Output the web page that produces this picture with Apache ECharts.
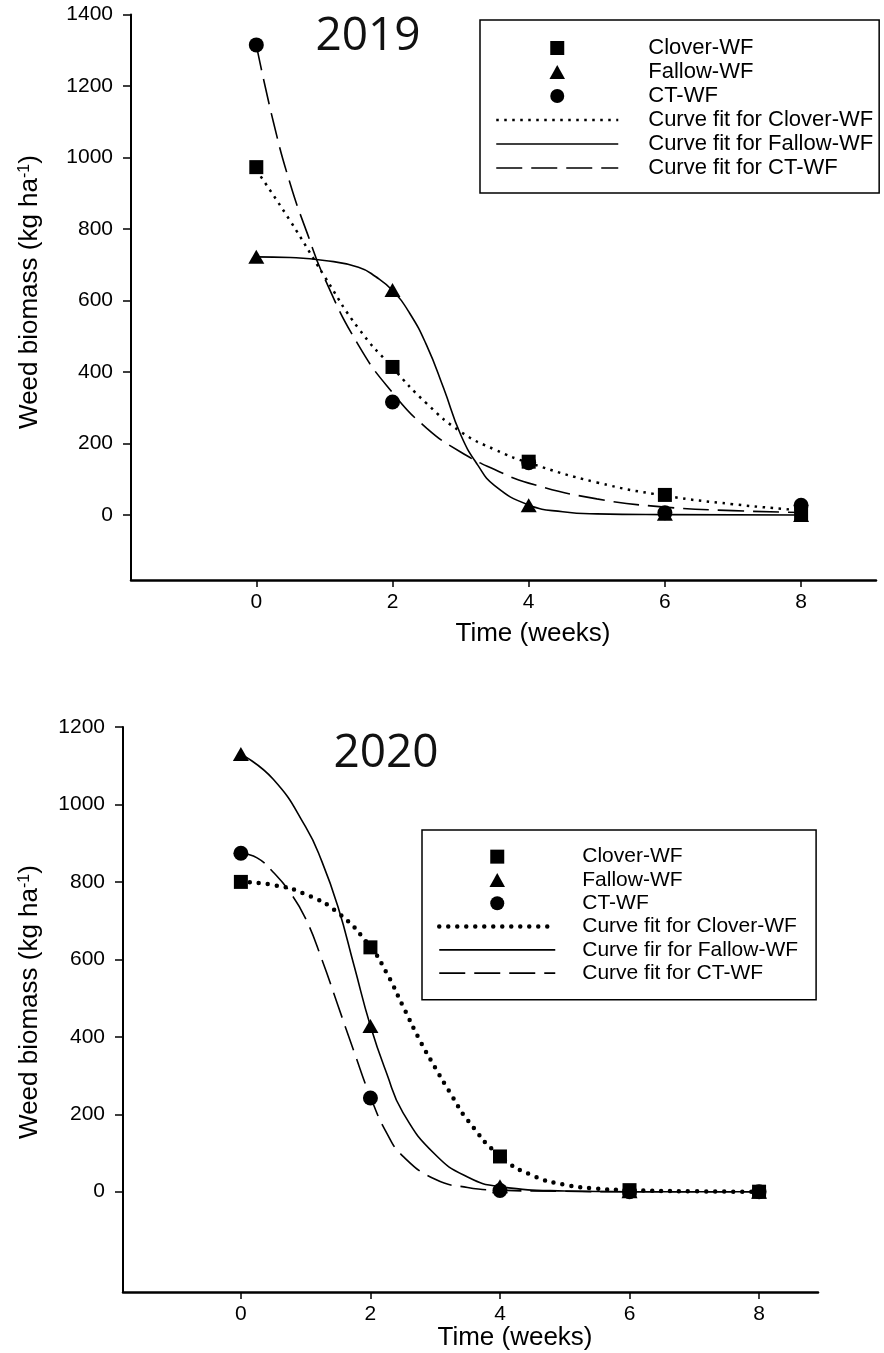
<!DOCTYPE html>
<html>
<head>
<meta charset="utf-8">
<script src="https://cdn.jsdelivr.net/npm/echarts@6/dist/echarts.min.js"></script>
<style>
html,body{margin:0;padding:0;background:#fff;}
#chart{width:884px;height:1353px;}
</style>
</head>
<body>
<div id="chart"></div>
<script>
// ---------- data ----------
const weeks = [0, 2, 4, 6, 8];
const xTickLabels = [0, 2, 4, 6, 8];
const yTicks2019 = [0, 200, 400, 600, 800, 1000, 1200, 1400];
const yTicks2020 = [0, 200, 400, 600, 800, 1000, 1200];

// 2019 observed
const clover2019 = [973, 414, 149, 56, 2];
const fallow2019 = [722, 629, 27, 3, 0];
const ct2019 = [1315, 316, 146, 6, 27];
// 2019 fitted curves
const cloverFitT2019 = [0, 0.5, 1, 1.5, 2, 2.5, 3, 3.5, 4, 5, 6, 7, 8];
const cloverFit2019 = [965, 822, 668, 522, 412, 312, 233, 183, 146, 91, 54, 30, 13];
const fallowFitT2019 = [0, 0.5, 1, 1.5, 1.75, 2, 2.25, 2.5, 2.75, 3, 3.25, 3.5, 4, 4.5, 5, 6, 8];
const fallowFit2019 = [722, 720, 712, 693, 667, 628, 565, 475, 355, 225, 140, 82, 28, 9, 3, 1, 0];
const ctFitT2019 = [0, 0.25, 0.5, 0.75, 1, 1.5, 2, 2.5, 3, 3.5, 4, 5, 6, 7, 8];
const ctFit2019 = [1315, 1100, 925, 787, 663, 475, 342, 243, 176, 127, 89, 45, 22, 12, 7];

// 2020 observed
const clover2020 = [800, 631, 91, 4, 0];
const fallow2020 = [1130, 428, 14, 1, 0];
const ct2020 = [874, 242, 3, 0, 0];
// 2020 fitted curves
const cloverFitT2020 = [0, 0.5, 1, 1.5, 2, 2.25, 2.5, 2.75, 3, 3.25, 3.5, 4, 4.5, 5, 5.5, 6, 7, 8];
const cloverFit2020 = [800, 792, 768, 720, 632, 565, 480, 395, 320, 250, 185, 92, 42, 18, 8, 4, 1, 0];
const fallowFitT2020 = [0, 0.5, 1, 1.25, 1.5, 1.75, 2, 2.25, 2.5, 3, 3.5, 4, 5, 6, 8];
const fallowFit2020 = [1130, 1065, 942, 853, 735, 582, 428, 306, 205, 96, 38, 13, 2, 0, 0];
const ctFitT2020 = [0, 0.25, 0.5, 0.75, 1, 1.25, 1.5, 1.75, 2, 2.25, 2.5, 3, 3.5, 4, 5, 6, 8];
const ctFit2020 = [874, 862, 825, 775, 705, 600, 480, 360, 245, 152, 92, 32, 11, 4, 1, 0, 0];

const legendNames2019 = ['Clover-WF', 'Fallow-WF', 'CT-WF', 'Curve fit for Clover-WF', 'Curve fit for Fallow-WF', 'Curve fit for CT-WF'];
const legendNames2020 = ['Clover-WF', 'Fallow-WF', 'CT-WF', 'Curve fit for Clover-WF', 'Curve fir for Fallow-WF', 'Curve fit for CT-WF'];

// ---------- helpers ----------
const zip = (xs, ys) => xs.map((x, i) => [x, ys[i]]);
const FONT = 'Liberation Sans';
const SQ = 'path://M0,0L10,0L10,10L0,10Z';
const TRI = 'path://M5,0L10,9L0,9Z';
const CIRC = 'path://M10,5A5,5,0,1,1,0,5A5,5,0,1,1,10,5Z';
const markerIcons = [SQ, TRI, CIRC];
const markerSymbols = ['rect', 'triangle', 'circle'];
const markerSizes = [[14, 14], [16, 14], 15];

function axesFor(idx, yMin, yMax, yTicks, xMin, xMax) {
  const x = {
    type: 'value', gridIndex: idx, min: xMin, max: xMax,
    axisLine: {show: true, onZero: false, lineStyle: {color: '#000', width: 2.5}},
    axisTick: {show: true, customValues: xTickLabels, length: 7, lineStyle: {color: '#000', width: 1.5}},
    axisLabel: {customValues: xTickLabels, formatter: v => String(v), color: '#000', fontSize: 21, fontFamily: FONT, margin: 12},
    splitLine: {show: false}
  };
  const y = {
    type: 'value', gridIndex: idx, min: yMin, max: yMax,
    axisLine: {show: true, onZero: false, lineStyle: {color: '#000', width: 2}},
    axisTick: {show: true, customValues: yTicks, length: 8, lineStyle: {color: '#000', width: 1.5}},
    axisLabel: {customValues: yTicks, formatter: v => String(v), color: '#000', fontSize: 21, fontFamily: FONT, margin: 18},
    splitLine: {show: false}
  };
  return [x, y];
}

function seriesFor(idx, prefix, names, obs, fits, fitTs, dotted) {
  const out = [];
  obs.forEach((vals, i) => {
    out.push({
      type: 'scatter', name: prefix + names[i], xAxisIndex: idx, yAxisIndex: idx,
      data: zip(weeks, vals), symbol: markerSymbols[i], symbolSize: markerSizes[i],
      itemStyle: {color: '#000', opacity: 1}, z: 5
    });
  });
  const styles = [
    dotted,
    {type: 'solid', width: 1.6, color: '#000'},
    {type: [26, 9], width: 1.6, color: '#000'}
  ];
  fits.forEach((vals, i) => {
    out.push({
      type: 'line', name: prefix + names[i + 3], xAxisIndex: idx, yAxisIndex: idx,
      data: zip(fitTs[i], vals), smooth: 0.5, showSymbol: false, symbol: 'none',
      lineStyle: styles[i], itemStyle: {color: '#000'}, z: 3, silent: true
    });
  });
  return out;
}

function legendFor(prefix, names, pos) {
  return {
    orient: 'vertical', left: pos.left, top: pos.top,
    padding: pos.padding, borderColor: '#000', borderWidth: 1.5,
    itemWidth: pos.itemWidth, itemHeight: 14, itemGap: 0, align: 'left',
    selectedMode: false,
    lineStyle: {width: 'inherit'},
    itemStyle: {opacity: 1},
    textStyle: {fontSize: pos.fontSize, fontFamily: FONT, color: '#000', lineHeight: pos.pitch, padding: [0, 0, 0, pos.textPad]},
    formatter: n => n.replace(/^\d{4}\|/, ''),
    data: names.map((n, i) => i < 3
      ? {name: prefix + n, icon: markerIcons[i], itemStyle: {opacity: 1, color: '#000'}}
      : {name: prefix + n, itemStyle: {opacity: 0}})
  };
}

const [x0, y0] = axesFor(0, -182, 1400, yTicks2019, -1.84, 9.1);
const [x1, y1] = axesFor(1, -259, 1200, yTicks2020, -1.82, 8.91);

const yTitle = {text: '{m|Weed biomass (kg ha}{s|-1}{m|)}', align: 'center', verticalAlign: 'middle', fill: '#000',
  rich: {m: {fontSize: 26, fontFamily: FONT, fill: '#000'}, s: {fontSize: 16, fontFamily: FONT, fill: '#000', verticalAlign: 'top', padding: [0, 0, 10, 0]}}};

const option = {
  animation: false,
  backgroundColor: '#fff',
  grid: [
    {left: 131, right: 8, top: 14.5, bottom: 773},
    {left: 123, right: 66, top: 727, bottom: 61}
  ],
  xAxis: [x0, x1],
  yAxis: [y0, y1],
  legend: [
    legendFor('', legendNames2019, {left: 480, top: 20, padding: [16, 6, 13, 15], itemWidth: 122, fontSize: 22, pitch: 24, textPad: 25}),
    legendFor('2020|', legendNames2020, {left: 422, top: 830, padding: [15, 18, 15, 15], itemWidth: 116, fontSize: 21, pitch: 23.3, textPad: 22})
  ],
  series: [
    ...seriesFor(0, '', legendNames2019, [clover2019, fallow2019, ct2019],
      [cloverFit2019, fallowFit2019, ctFit2019], [cloverFitT2019, fallowFitT2019, ctFitT2019],
      {type: [2.5, 5.5], width: 2.5, color: '#000'}),
    ...seriesFor(1, '2020|', legendNames2020, [clover2020, fallow2020, ct2020],
      [cloverFit2020, fallowFit2020, ctFit2020], [cloverFitT2020, fallowFitT2020, ctFitT2020],
      {type: [0, 9], width: 4.5, cap: 'round', color: '#000'})
  ],
  graphic: [
    {type: 'text', x: 368, y: 37, style: {text: '2019', font: '46px "Open Sans"', fill: '#111', align: 'center', verticalAlign: 'middle'}},
    {type: 'text', x: 386, y: 754, style: {text: '2020', font: '46px "Open Sans"', fill: '#111', align: 'center', verticalAlign: 'middle'}},
    {type: 'text', x: 533, y: 634, style: {text: 'Time (weeks)', font: '26px "Liberation Sans"', fill: '#000', align: 'center', verticalAlign: 'middle'}},
    {type: 'text', x: 515, y: 1338, style: {text: 'Time (weeks)', font: '26px "Liberation Sans"', fill: '#000', align: 'center', verticalAlign: 'middle'}},
    {type: 'text', x: 30, y: 292, rotation: Math.PI / 2, style: yTitle},
    {type: 'text', x: 30, y: 1002, rotation: Math.PI / 2, style: yTitle}
  ]
};

const chart = echarts.init(document.getElementById('chart'), null, {renderer: 'canvas'});
chart.setOption(option);
</script>
</body>
</html>
